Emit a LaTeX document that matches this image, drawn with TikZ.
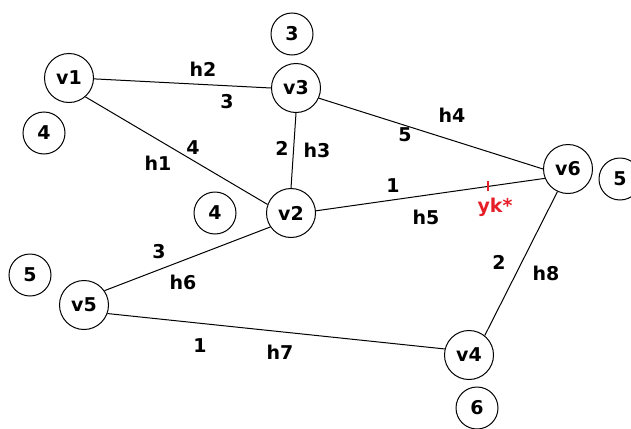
\documentclass[tikz,border=0pt]{standalone}
\usepackage{fontspec}
\setmainfont{DejaVu Sans}
\definecolor{ykRed}{RGB}{230,30,40}
\begin{document}
\begin{tikzpicture}[x=0.5pt, y=-0.5pt,
    font=\fontsize{9.5}{11}\selectfont\bfseries,
    netVertex/.style={draw, circle, inner sep=0pt, minimum size=24.5pt, line width=0.5pt},
    netDist/.style={draw, circle, inner sep=0pt, minimum size=21pt, line width=0.5pt},
    netEdge/.style={line width=0.5pt},
    netLbl/.style={inner sep=0pt}]
    \useasboundingbox (0, 0) rectangle (631, 428);
    
    \node[netVertex] (v1) at (69, 78) {v1};
    \node[netVertex] (v3) at (296, 88) {v3};
    \node[netVertex] (v2) at (291, 213) {v2};
    \node[netVertex] (v6) at (568, 169) {v6};
    \node[netVertex] (v5) at (84, 305) {v5};
    \node[netVertex] (v4) at (469, 355) {v4};
    
    \node[netDist] (dv1) at (44, 133) {4};
    \node[netDist] (dv3) at (292, 34) {3};
    \node[netDist] (dv2) at (215, 213) {4};
    \node[netDist] (dv6) at (620, 179) {5};
    \node[netDist] (dv5) at (30, 275) {5};
    \node[netDist] (dv4) at (477, 408) {6};
    
    \draw[netEdge] (v1.-2) -- (v3.180);
    \draw[netEdge] (v1.-49) -- (v2.160);
    \draw[netEdge] (v3.south) -- (v2.north);
    \draw[netEdge] (v3.-24) -- (v6.180);
    \draw[netEdge] (v2.5) -- coordinate[pos=0.75] (yk) (v6.202);
    \draw[netEdge] (v5.35) -- (v2.214);
    \draw[netEdge] (v5.-20) -- (v4.166);
    \draw[netEdge] (v6.245) -- (v4.51);
    
    % edge names and weights
    \node[netLbl] (h2) at (203, 69) {h2};
    \node[netLbl] (w2) at (227, 102) {3};
    \node[netLbl] (h1) at (158, 163) {h1};
    \node[netLbl] (w1) at (193, 148) {4};
    \node[netLbl] (w3) at (282, 148) {2};
    \node[netLbl] (h3) at (317, 150) {h3};
    \node[netLbl] (h4) at (452, 115) {h4};
    \node[netLbl] (w4) at (405, 135) {5};
    \node[netLbl] (w5) at (393, 186) {1};
    \node[netLbl] (h5) at (426, 217) {h5};
    \node[netLbl] (w6) at (159, 252) {3};
    \node[netLbl] (h6) at (183, 282) {h6};
    \node[netLbl] (w7) at (200, 346) {1};
    \node[netLbl] (h7) at (280, 352) {h7};
    \node[netLbl] (w8) at (499, 262) {2};
    \node[netLbl] (h8) at (546, 273) {h8};
    
    \draw[ykRed, line width=1pt] (yk) ++(0, -5) -- ++(0, 10);
    \node[netLbl, text=ykRed] (ykLbl) at (495, 207) {yk*};
\end{tikzpicture}
\end{document}
